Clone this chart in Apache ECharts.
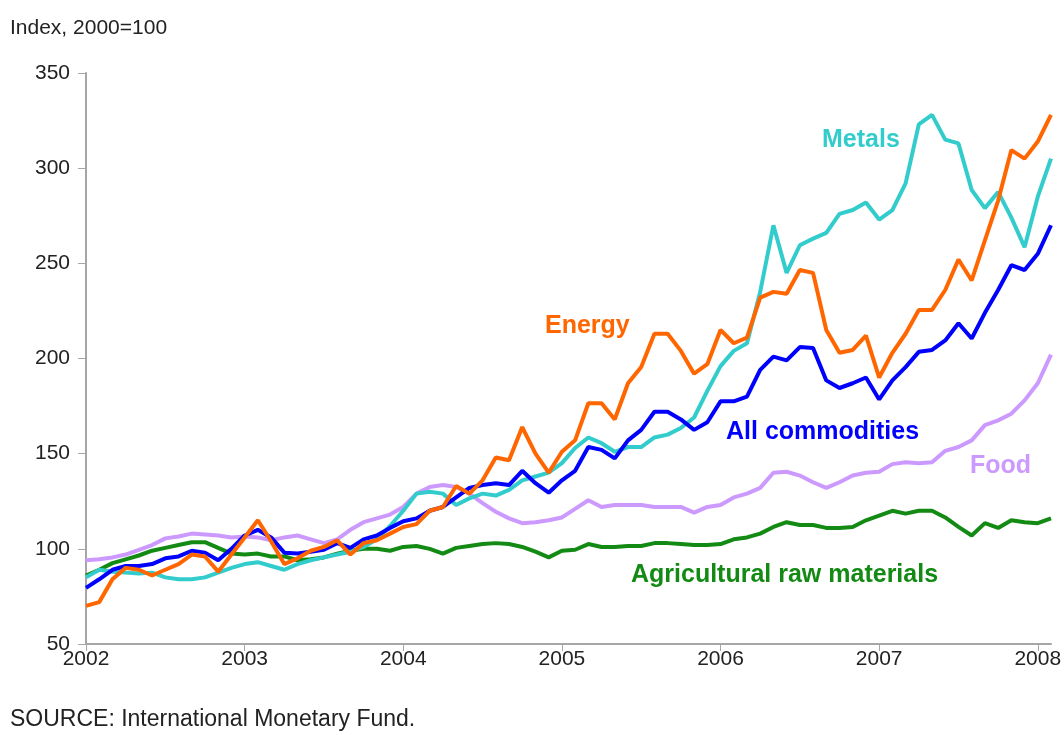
<!DOCTYPE html>
<html>
<head>
<meta charset="utf-8">
<title>Commodity prices</title>
<script src="https://cdn.jsdelivr.net/npm/echarts@6/dist/echarts.min.js"></script>
<style>
  html, body { margin: 0; padding: 0; background: #fff; }
  #chart { width: 1064px; height: 735px; }
</style>
</head>
<body>
<div id="chart"></div>
<script>
// monthly, Jan 2002 .. Feb 2008
const startYear = 2002
const monthCount = 74
const months = []
for (let i = 0; i < monthCount; i++) {
  months.push(startYear + Math.floor(i / 12) + '-' + String(i % 12 + 1).padStart(2, '0'))
}

const energy = [
  70, 72, 84, 90, 89, 86, 89, 92, 97, 96, 88, 97, 106, 115, 104, 92, 95, 99, 101, 104.5,
  97, 103, 104.5, 108, 111.5, 113, 120, 122, 133, 129, 136, 148, 146.5, 164, 150, 140, 151, 157, 176.5, 176.5,
  168, 187, 195.5, 213, 213, 204, 192, 197, 215, 208, 211, 232, 235, 234, 246.5, 245, 215, 203, 204.5, 212,
  190, 203, 213, 225.5, 225.5, 236, 252, 241, 262, 283, 309.5, 305, 314, 328
]
const metals = [
  85, 89, 88, 87.5, 87, 87.5, 85, 84, 84, 85, 87.5, 90, 92, 93, 91, 89, 92, 94, 95.5, 97,
  98.5, 101, 105, 112, 120, 129, 130, 129, 123, 126.5, 129, 128, 131, 136, 138, 140, 145, 153, 158.5, 155.5,
  151, 153.5, 153.5, 158.5, 160, 163.5, 169, 183, 196, 204, 208, 235, 270, 245, 259.5, 263, 266, 276, 278, 282,
  273, 278, 292, 323, 328, 315, 313, 288.5, 279, 287.5, 274, 258.5, 285, 305
]
const allCommodities = [
  79.5, 84, 89, 91, 91, 92, 95, 96, 99, 98, 94, 100, 107, 110, 106, 98, 97.5, 98.5, 99.5, 103,
  100.5, 105, 107, 111, 114.5, 116, 120, 122, 127, 132, 133.5, 134.5, 133.5, 141, 134.5, 129.5, 136, 141, 153.5, 152,
  147.5, 157, 162.5, 172, 172, 168, 162.5, 166.5, 177.5, 177.5, 180, 194, 201, 199, 206, 205.5, 188.5, 184.5, 187, 190,
  178.5, 188.5, 195.5, 203.5, 204.5, 209.5, 218.5, 210.5, 224, 236, 249, 246.5, 255, 270
]
const food = [
  94, 94.5, 95.5, 97, 99.5, 102, 105.5, 106.5, 108, 107.5, 107, 106, 106.5, 106, 104.5, 106, 107, 105, 103, 105,
  110, 114, 116, 118, 122, 129, 132.5, 133.5, 132.5, 129, 124, 119.5, 116, 113.5, 114, 115, 116.5, 121, 125.5, 122,
  123, 123, 123, 122, 122, 122, 119, 122, 123, 127, 129, 132, 140, 140.5, 138.5, 135, 132, 135, 138.5, 140,
  140.5, 144.5, 145.5, 145, 145.5, 151.5, 153.5, 157, 165, 167.5, 171, 178, 187, 202
]
const agricultural = [
  86, 89, 92.5, 94.5, 96.5, 99, 100.5, 102, 103.5, 103.5, 100.5, 97.5, 97, 97.5, 96, 96, 94, 94.5, 95.5, 97.5,
  99, 100, 100, 99, 101, 101.5, 100, 97.5, 100.5, 101.5, 102.5, 103, 102.5, 101, 98.5, 95.5, 99, 99.5, 102.5, 101,
  101, 101.5, 101.5, 103, 103, 102.5, 102, 102, 102.5, 105, 106, 108, 111.5, 114, 112.5, 112.5, 111, 111, 111.5, 115,
  117.5, 120, 118.5, 120, 120, 116.5, 111.5, 107, 113.5, 111, 115, 114, 113.5, 116
]

const seriesNames = ['Agricultural raw materials', 'Food', 'Metals', 'All commodities', 'Energy']
const seriesColors = ['#138a13', '#cc99ff', '#33cccc', '#0000ff', '#ff6600']
const seriesData = [agricultural, food, metals, allCommodities, energy]

const chart = echarts.init(document.getElementById('chart'))
const font = '"Liberation Sans", Arial, sans-serif'

// series labels placed beside their lines, as in the original (x = left, y = middle)
const lineLabels = [
  { text: 'Metals', x: 822, y: 140, color: '#33cccc' },
  { text: 'Energy', x: 545, y: 326, color: '#ff6600' },
  { text: 'All commodities', x: 726, y: 432, color: '#0000ff' },
  { text: 'Food', x: 970, y: 466, color: '#cc99ff' },
  { text: 'Agricultural raw materials', x: 631, y: 575, color: '#138a13' }
]

const option = {
  animation: false,
  backgroundColor: '#fff',
  grid: { left: 86, right: 13, top: 73, bottom: 91, outerBoundsMode: 'none', containLabel: false },
  xAxis: {
    type: 'category',
    data: months,
    boundaryGap: false,
    axisLine: { lineStyle: { color: '#a6a6a6', width: 2 } },
    axisTick: {
      length: 7,
      lineStyle: { color: '#a6a6a6', width: 1 },
      interval: (i) => i % 12 === 0
    },
    axisLabel: {
      interval: (i) => i % 12 === 0,
      formatter: (v) => v.slice(0, 4),
      color: '#222',
      fontSize: 21,
      fontFamily: font,
      margin: 5
    },
    splitLine: { show: false }
  },
  yAxis: {
    type: 'value',
    min: 50,
    max: 350,
    interval: 50,
    axisLine: { show: true, lineStyle: { color: '#a6a6a6', width: 2 } },
    axisTick: { show: true, length: 8, lineStyle: { color: '#a6a6a6' } },
    axisLabel: { color: '#222', fontSize: 21, fontFamily: font, margin: 16 },
    splitLine: { show: false }
  },
  series: seriesNames.map((name, k) => ({
    name: name,
    type: 'line',
    data: seriesData[k],
    symbol: 'none',
    lineStyle: { color: seriesColors[k], width: 4 },
    itemStyle: { color: seriesColors[k] }
  })),
  graphic: [
    {
      type: 'text', x: 10, y: 28,
      style: { text: 'Index, 2000=100', fill: '#222', font: '21px ' + font, verticalAlign: 'middle' }
    },
    {
      type: 'text', x: 10, y: 720,
      style: { text: 'SOURCE: International Monetary Fund.', fill: '#222', font: '23px ' + font, verticalAlign: 'middle' }
    }
  ].concat(lineLabels.map(l => ({
    type: 'text', x: l.x, y: l.y,
    style: { text: l.text, fill: l.color, font: 'bold 25px ' + font, verticalAlign: 'middle' }
  })))
}

chart.setOption(option)
</script>
</body>
</html>
